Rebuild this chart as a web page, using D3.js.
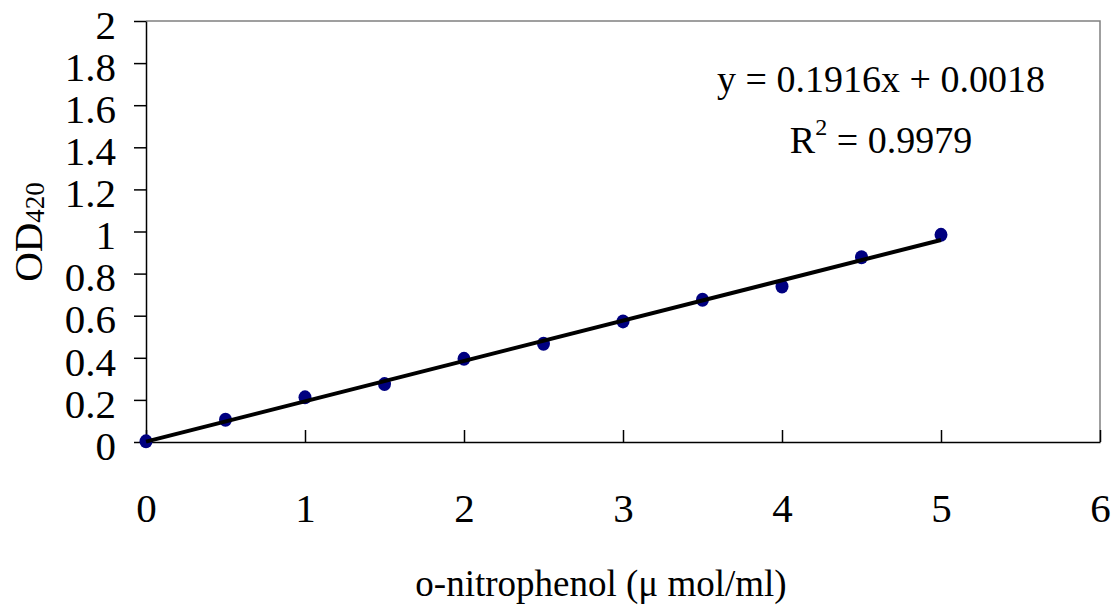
<!DOCTYPE html>
<html>
<head>
<meta charset="utf-8">
<script src="https://cdn.jsdelivr.net/npm/d3@7"></script>
<style>
  body { margin: 0; background: #fff; }
  svg text { font-family: "Liberation Serif", "Times New Roman", serif; fill: #000; }
</style>
</head>
<body>
<div id="chart-area"></div>
<script>
// data
var concentrations = [0, 0.5, 1, 1.5, 2, 2.5, 3, 3.5, 4, 4.5, 5];
var absorbances = [0.003, 0.106, 0.212, 0.275, 0.395, 0.467, 0.573, 0.676, 0.739, 0.878, 0.984];
var xTicks = [0, 1, 2, 3, 4, 5, 6];
var yTicks = [0, 0.2, 0.4, 0.6, 0.8, 1, 1.2, 1.4, 1.6, 1.8, 2];
var slope = 0.1916, intercept = 0.0018, rSquared = 0.9979;

var W = 1116, H = 605;
var margin = { left: 146, right: 16, top: 21, bottom: 163 };
var width = W - margin.left - margin.right,
    height = H - margin.top - margin.bottom;

var svg = d3.select("#chart-area")
    .append("svg")
    .attr("width", W)
    .attr("height", H);

var g = svg.append("g")
    .attr("transform", "translate(" + margin.left + "," + margin.top + ")");

var x = d3.scaleLinear().domain([0, 6]).range([0, width]);
var y = d3.scaleLinear().domain([0, 2]).range([height, 0]);

// top / right border (grey)
g.append("path")
    .attr("d", "M0,0H" + width + "V" + height)
    .attr("fill", "none")
    .attr("stroke", "#808080")
    .attr("stroke-width", 1.5);

// Y axis
var yAxisCall = d3.axisLeft(y)
    .tickValues(yTicks)
    .tickSizeInner(12)
    .tickSizeOuter(0)
    .tickPadding(18)
    .tickFormat(function(d){ return +d.toFixed(1); });
var yAxis = g.append("g").attr("class", "y axis").call(yAxisCall);

// X axis, ticks pointing up into the plot
var xAxisCall = d3.axisBottom(x)
    .tickValues(xTicks)
    .tickSizeInner(-12)
    .tickSizeOuter(0)
    .tickPadding(51)
    .tickFormat(function(d){ return d; });
var xAxis = g.append("g")
    .attr("class", "x axis")
    .attr("transform", "translate(0," + height + ")")
    .call(xAxisCall);

[xAxis, yAxis].forEach(function(a){
    a.select(".domain").attr("stroke", "#000").attr("stroke-width", 1.5);
    a.selectAll(".tick line").attr("stroke", "#000").attr("stroke-width", 1.5);
    a.selectAll(".tick text")
        .attr("font-family", "Liberation Serif, serif")
        .attr("font-size", "41px");
});
yAxis.selectAll(".tick text").attr("dy", "0.42em");

// data points
g.selectAll("ellipse.pt")
    .data(concentrations)
    .enter()
    .append("ellipse")
    .attr("class", "pt")
    .attr("cx", function(d){ return x(d); })
    .attr("cy", function(d, i){ return y(absorbances[i]); })
    .attr("rx", 6.5)
    .attr("ry", 7)
    .attr("fill", "#000080");

// linear trendline
var xMin = d3.min(concentrations), xMax = d3.max(concentrations);
g.append("line")
    .attr("x1", x(xMin))
    .attr("y1", y(slope * xMin + intercept))
    .attr("x2", x(xMax))
    .attr("y2", y(slope * xMax + intercept))
    .attr("stroke", "#000")
    .attr("stroke-width", 4);

// equation label
svg.append("text")
    .attr("x", 881)
    .attr("y", 92)
    .attr("text-anchor", "middle")
    .attr("font-size", "38px")
    .text("y = " + slope + "x + " + intercept.toFixed(4));

var r2 = svg.append("text")
    .attr("x", 881)
    .attr("y", 153)
    .attr("text-anchor", "middle")
    .attr("font-size", "38px");
r2.append("tspan").text("R");
r2.append("tspan").attr("font-size", "24px").attr("dy", "-18").text("2");
r2.append("tspan").attr("dy", "18").text(" = " + rSquared);

// axis titles
svg.append("text")
    .attr("x", 601)
    .attr("y", 596)
    .attr("text-anchor", "middle")
    .attr("font-size", "37px")
    .text("o-nitrophenol (\u03bc mol/ml)");

var yLabel = svg.append("text")
    .attr("transform", "translate(42,232) rotate(-90)")
    .attr("text-anchor", "middle")
    .attr("font-size", "41px");
yLabel.append("tspan").text("OD");
yLabel.append("tspan").attr("font-size", "27px").attr("dy", "2").text("420");
</script>
</body>
</html>
